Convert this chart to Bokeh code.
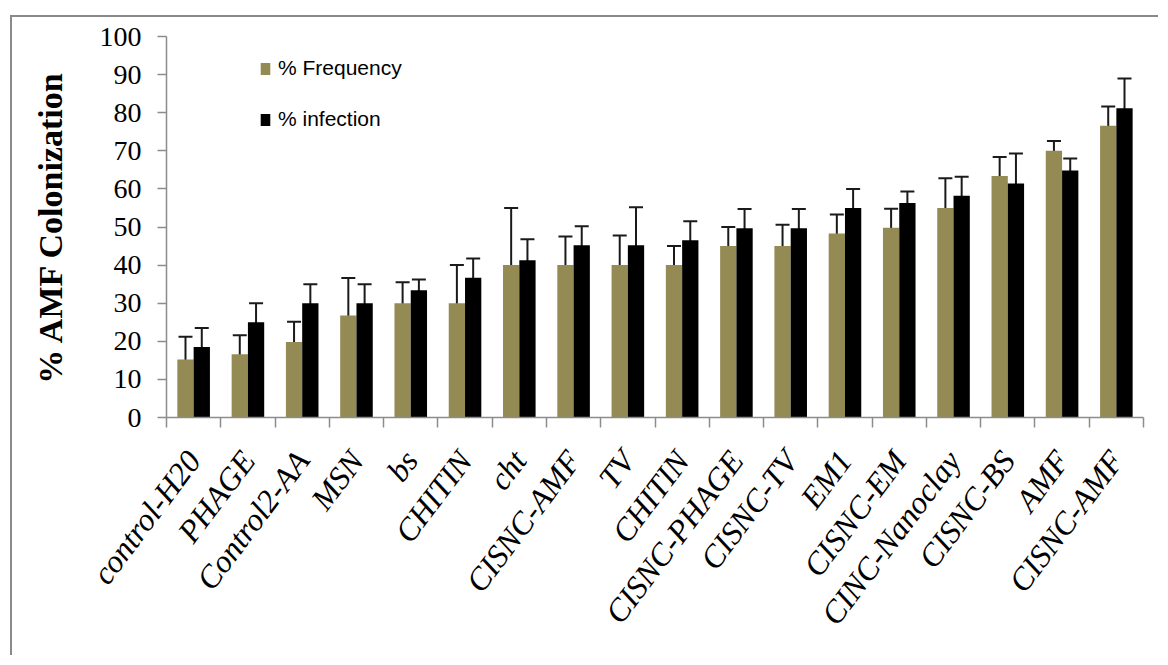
import math
from bokeh.plotting import figure
from bokeh.models import ColumnDataSource, FixedTicker, Whisker, TeeHead, Legend, LegendItem
from bokeh.embed import file_html
from bokeh.resources import INLINE

categories = ["control-H20", "PHAGE", "Control2-AA", "MSN", "bs", "CHITIN", "cht",
              "CISNC-AMF", "TV", "CHITIN", "CISNC-PHAGE", "CISNC-TV", "EM1",
              "CISNC-EM", "CINC-Nanoclay", "CISNC-BS", "AMF", "CISNC-AMF"]
freq = [15.2, 16.6, 19.8, 26.8, 30.0, 30.0, 40.0, 40.0, 40.0, 40.0, 45.0, 45.0,
        48.3, 49.8, 55.0, 63.4, 70.0, 76.6]
freq_err = [6.0, 5.0, 5.3, 9.8, 5.5, 10.0, 15.0, 7.5, 7.8, 5.0, 5.0, 5.6,
            5.0, 5.0, 7.8, 5.0, 2.6, 5.0]
infection = [18.5, 25.0, 30.0, 30.0, 33.4, 36.7, 41.3, 45.2, 45.2, 46.5, 49.7, 49.7,
             55.0, 56.3, 58.2, 61.4, 64.8, 81.2]
infection_err = [5.0, 5.0, 5.0, 5.0, 2.8, 5.0, 5.5, 5.0, 10.0, 5.0, 5.0, 5.0,
                 5.0, 3.0, 5.0, 7.9, 3.2, 7.8]
y_ticks = [0, 10, 20, 30, 40, 50, 60, 70, 80, 90, 100]

n = len(categories)
centers = [i + 0.5 for i in range(n)]
bw = 0.3

src_f = ColumnDataSource(dict(
    x=[c - bw / 2 for c in centers], top=freq,
    upper=[v + e for v, e in zip(freq, freq_err)],
    lower=[v - e for v, e in zip(freq, freq_err)]))
src_i = ColumnDataSource(dict(
    x=[c + bw / 2 for c in centers], top=infection,
    upper=[v + e for v, e in zip(infection, infection_err)],
    lower=[v - e for v, e in zip(infection, infection_err)]))

p = figure(width=1148, height=640, x_range=(0, n), y_range=(0, 100),
           output_backend="svg", toolbar_location=None,
           min_border_left=154, min_border_right=17, min_border_top=19,
           min_border_bottom=240,
           styles={"margin-top": "15px", "margin-left": "10px",
                   "border-left": "2px solid #8a8a8a", "border-top": "2px solid #8a8a8a"})
p.outline_line_color = None
p.xgrid.grid_line_color = None
p.ygrid.grid_line_color = None

fill_color = "#948A54"
r1 = p.vbar(x="x", top="top", width=bw, source=src_f, fill_color=fill_color, line_color=None)
r2 = p.vbar(x="x", top="top", width=bw, source=src_i, fill_color="black", line_color=None)

for src in (src_f, src_i):
    w = Whisker(base="x", upper="upper", lower="lower", source=src,
                line_color="#1a1a1a", line_width=2,
                upper_head=TeeHead(size=14, line_color="#1a1a1a", line_width=2),
                lower_head=TeeHead(size=14, line_color="#1a1a1a", line_width=2))
    p.add_layout(w)

# y axis
yax = p.yaxis[0]
yax.ticker = FixedTicker(ticks=y_ticks)
yax.axis_line_color = "#8c8c8c"
yax.axis_line_width = 1.5
yax.major_tick_line_color = "#8c8c8c"
yax.major_tick_line_width = 1.5
yax.major_tick_in = 0
yax.major_tick_out = 9
yax.minor_tick_line_color = None
yax.major_label_text_font = "Liberation Serif"
yax.major_label_text_font_size = "28px"
yax.major_label_text_color = "black"
yax.major_label_standoff = 16
yax.axis_label = "% AMF Colonization"
yax.axis_label_text_font = "Liberation Serif"
yax.axis_label_text_font_style = "bold"
yax.axis_label_text_font_size = "34px"
yax.axis_label_text_color = "black"
yax.axis_label_standoff = 28

# x axis
xax = p.xaxis[0]
xax.ticker = FixedTicker(ticks=centers, minor_ticks=list(range(n + 1)))
xax.major_label_overrides = {c: lab for c, lab in zip(centers, categories)}
xax.axis_line_color = "#8c8c8c"
xax.axis_line_width = 1.5
xax.major_tick_line_color = None
xax.major_tick_in = 0
xax.major_tick_out = 0
xax.minor_tick_line_color = "#8c8c8c"
xax.minor_tick_line_width = 1.5
xax.minor_tick_in = 0
xax.minor_tick_out = 10
xax.major_label_orientation = math.radians(53)
xax.major_label_text_font = "Liberation Serif"
xax.major_label_text_font_style = "italic"
xax.major_label_text_font_size = "32px"
xax.major_label_text_color = "black"
xax.major_label_standoff = 27

legend = Legend(items=[LegendItem(label="% Frequency", renderers=[r1]),
                       LegendItem(label="% infection", renderers=[r2])],
                location=(93, 286), orientation="vertical")
legend.border_line_color = None
legend.background_fill_alpha = 0
legend.padding = 0
legend.margin = 0
legend.spacing = 27
legend.glyph_width = 12
legend.glyph_height = 15
legend.label_height = 24
legend.label_standoff = 7
legend.label_text_font = "Liberation Sans"
legend.label_text_font_size = "21px"
legend.label_text_color = "black"
p.add_layout(legend)

open("out.html", "w").write(file_html(p, INLINE))
